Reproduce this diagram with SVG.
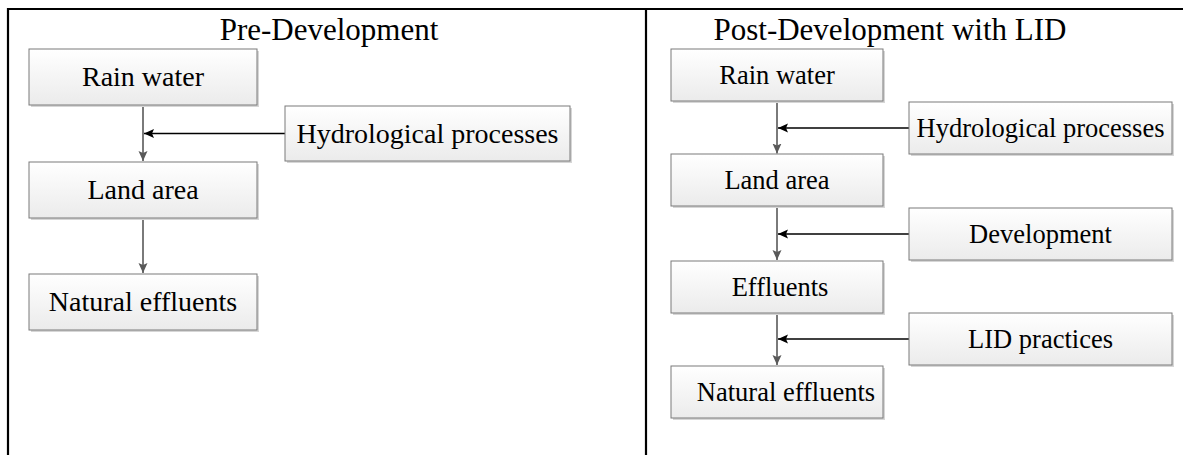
<svg xmlns="http://www.w3.org/2000/svg" width="1183" height="455" viewBox="0 0 1183 455">
<style>
  .box { fill: url(#g); stroke: #7a7a7a; stroke-width: 1; }
  .sh { fill: #d6d6d6; }
  .t { font-family: "Liberation Serif", "Times New Roman", serif; fill: #000; text-anchor: middle; }
  .tl { font-size: 28px; }
  .tr { font-size: 26.5px; }
  .title { font-size: 31px; }
  .v { stroke: #595959; stroke-width: 1.6; fill: none; marker-end: url(#ag); }
  .h { stroke: #000; stroke-width: 1.6; fill: none; marker-end: url(#ak); }
  .frame { stroke: #000; stroke-width: 2.2; fill: none; }
</style>
<defs>
  <linearGradient id="g" x1="0" y1="0" x2="0" y2="1">
    <stop offset="0" stop-color="#ffffff"/>
    <stop offset="1" stop-color="#ebebeb"/>
  </linearGradient>
  <marker id="ag" viewBox="0 0 10 10" refX="10" refY="5" markerWidth="10" markerHeight="10" markerUnits="userSpaceOnUse" orient="auto">
    <path d="M0,0.5 L10,5 L0,9.5 L2,5 Z" fill="#595959"/>
  </marker>
  <marker id="ak" viewBox="0 0 10 10" refX="10" refY="5" markerWidth="10" markerHeight="10" markerUnits="userSpaceOnUse" orient="auto">
    <path d="M0,0.5 L10,5 L0,9.5 L2,5 Z" fill="#000"/>
  </marker>
</defs>
<rect width="1183" height="455" fill="#fff"/>
<g id="frame">
  <path class="frame" d="M8,455 V9 H1183 M646,9 V455"/>
</g>
<g id="titles">
  <text class="t title" x="329" y="40">Pre-Development</text>
  <text class="t title" x="890" y="40">Post-Development with LID</text>
</g>
<g id="connectors">
  <line class="v" x1="143" y1="105" x2="143" y2="161"/>
  <line class="h" x1="285" y1="133.5" x2="144" y2="133.5"/>
  <line class="v" x1="143" y1="218" x2="143" y2="273"/>
  <line class="v" x1="777" y1="101" x2="777" y2="153.5"/>
  <line class="h" x1="909" y1="128" x2="778" y2="128"/>
  <line class="v" x1="777" y1="207" x2="777" y2="260"/>
  <line class="h" x1="909" y1="234" x2="778" y2="234"/>
  <line class="v" x1="777" y1="313" x2="777" y2="365"/>
  <line class="h" x1="909" y1="339" x2="778" y2="339"/>
</g>
<g id="pre-rain">
  <rect class="sh" x="31" y="51" width="228" height="56"/>
  <rect class="box" x="29" y="49" width="228" height="56"/>
  <text class="t tl" x="143" y="86">Rain water</text>
</g>
<g id="pre-hydro">
  <rect class="sh" x="287" y="108" width="285" height="55"/>
  <rect class="box" x="285" y="106" width="285" height="55"/>
  <text class="t tl" x="427.5" y="143">Hydrological processes</text>
</g>
<g id="pre-land">
  <rect class="sh" x="31" y="164" width="228" height="56"/>
  <rect class="box" x="29" y="162" width="228" height="56"/>
  <text class="t tl" x="143" y="199">Land area</text>
</g>
<g id="pre-natural">
  <rect class="sh" x="31" y="276" width="228" height="56"/>
  <rect class="box" x="29" y="274" width="228" height="56"/>
  <text class="t tl" x="143" y="311">Natural effluents</text>
</g>
<g id="post-rain">
  <rect class="sh" x="673" y="51" width="212" height="52"/>
  <rect class="box" x="671" y="49" width="212" height="52"/>
  <text class="t tr" x="777" y="84">Rain water</text>
</g>
<g id="post-hydro">
  <rect class="sh" x="911" y="104" width="263" height="52"/>
  <rect class="box" x="909" y="102" width="263" height="52"/>
  <text class="t tr" x="1040.5" y="137">Hydrological processes</text>
</g>
<g id="post-land">
  <rect class="sh" x="673" y="156" width="212" height="52"/>
  <rect class="box" x="671" y="154" width="212" height="52"/>
  <text class="t tr" x="777" y="189">Land area</text>
</g>
<g id="post-development">
  <rect class="sh" x="911" y="210" width="263" height="52"/>
  <rect class="box" x="909" y="208" width="263" height="52"/>
  <text class="t tr" x="1040.5" y="243">Development</text>
</g>
<g id="post-effluents">
  <rect class="sh" x="673" y="263" width="212" height="52"/>
  <rect class="box" x="671" y="261" width="212" height="52"/>
  <text class="t tr" x="780" y="296">Effluents</text>
</g>
<g id="post-lid">
  <rect class="sh" x="911" y="315" width="263" height="52"/>
  <rect class="box" x="909" y="313" width="263" height="52"/>
  <text class="t tr" x="1040.5" y="348">LID practices</text>
</g>
<g id="post-natural">
  <rect class="sh" x="673" y="368" width="212" height="52"/>
  <rect class="box" x="671" y="366" width="212" height="52"/>
  <text class="t tr" x="786" y="401">Natural effluents</text>
</g>
</svg>
